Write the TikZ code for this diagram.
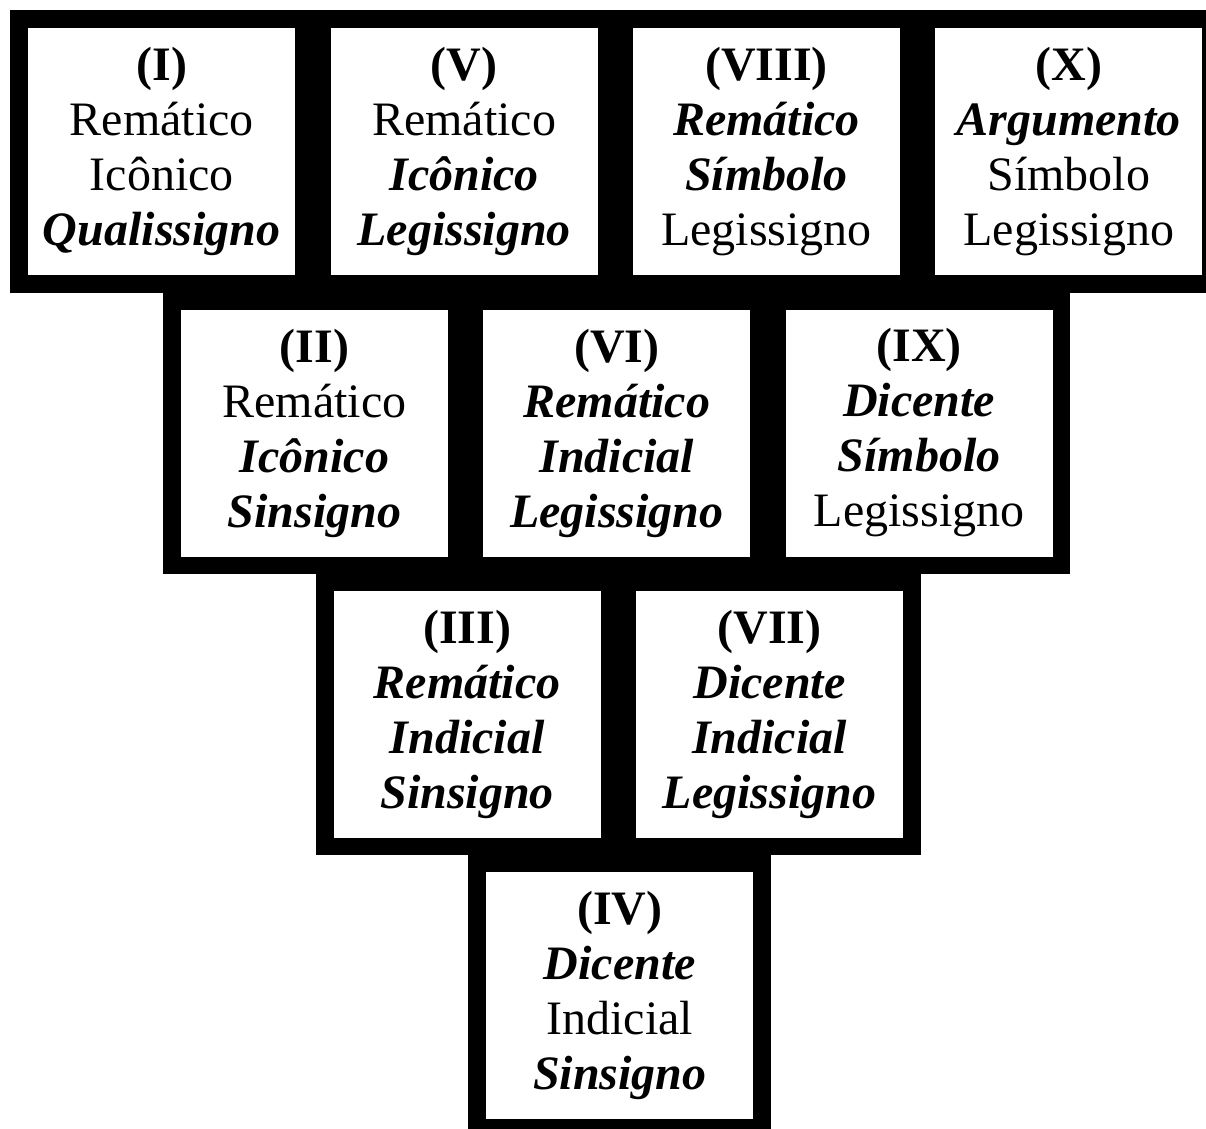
\documentclass[tikz,border=0pt]{standalone}
\usepackage{fontspec}
\setmainfont{Liberation Serif}
\newcommand\signnum[1]{\textbf{#1}}
\newcommand\signbi[1]{\textbf{\textit{#1}}}
\begin{document}
\begin{tikzpicture}[x=1pt,y=-1pt,
  band/.style={fill=black},
  signbox/.style={fill=white, minimum width=267pt, minimum height=247pt,
    inner sep=0pt, anchor=north west, align=center,
    font=\fontsize{48}{55}\selectfont},
]
\useasboundingbox (0,0) rectangle (1206,1128);
\fill[white] (0,0) rectangle (1206,1128);
\clip (0,0) rectangle (1206,1128);

% black bands behind each row of the pyramid
\fill[band] (10.3,10.3)   rectangle (1219.9,292.7);
\fill[band] (163.0,291.6) rectangle (1070.2,574.0);
\fill[band] (315.7,572.9) rectangle (920.5,855.3);
\fill[band] (468.4,854.2) rectangle (770.8,1136.6);

% row 1
\node[signbox] (s1) at (28,28)
  {\signnum{(I)}\\Remático\\Icônico\\\signbi{Qualissigno}};
\node[signbox] (s5) at (330.4,28)
  {\signnum{(V)}\\Remático\\\signbi{Icônico}\\\signbi{Legissigno}};
\node[signbox] (s8) at (632.8,28)
  {\signnum{(VIII)}\\\signbi{Remático}\\\signbi{Símbolo}\\Legissigno};
\node[signbox] (s10) at (935.2,28)
  {\signnum{(X)}\\\signbi{Argumento}\\Símbolo\\Legissigno};

% row 2
\node[signbox] (s2) at (180.7,309.3)
  {\signnum{(II)}\\Remático\\\signbi{Icônico}\\\signbi{Sinsigno}};
\node[signbox] (s6) at (483.1,309.3)
  {\signnum{(VI)}\\\signbi{Remático}\\\signbi{Indicial}\\\signbi{Legissigno}};
\node[signbox] (s9) at (785.5,309.3)
  {\signnum{(IX)}\\\signbi{Dicente}\\\signbi{Símbolo}\\Legissigno};

% row 3
\node[signbox] (s3) at (333.4,590.6)
  {\signnum{(III)}\\\signbi{Remático}\\\signbi{Indicial}\\\signbi{Sinsigno}};
\node[signbox] (s7) at (635.8,590.6)
  {\signnum{(VII)}\\\signbi{Dicente}\\\signbi{Indicial}\\\signbi{Legissigno}};

% row 4
\node[signbox] (s4) at (486.1,871.9)
  {\signnum{(IV)}\\\signbi{Dicente}\\Indicial\\\signbi{Sinsigno}};
\end{tikzpicture}
\end{document}
